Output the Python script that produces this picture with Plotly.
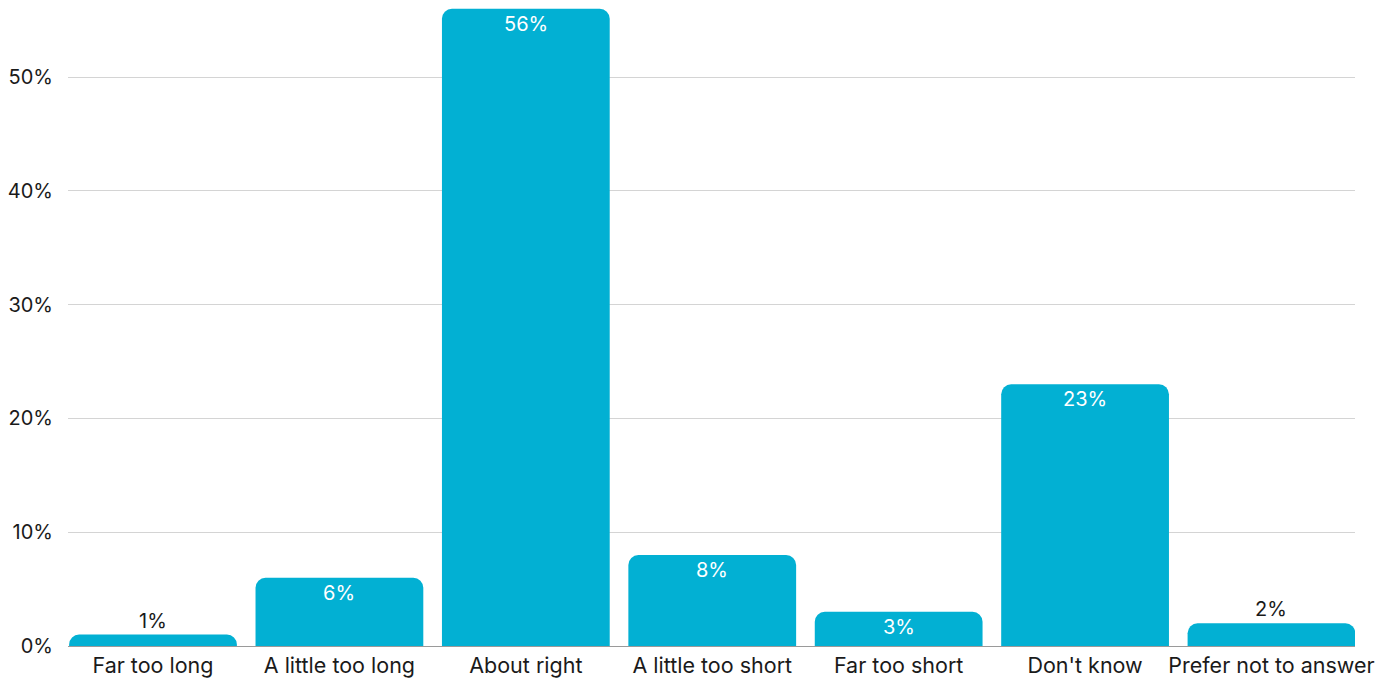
import plotly.graph_objects as go

categories = ["Far too long", "A little too long", "About right", "A little too short",
              "Far too short", "Don't know", "Prefer not to answer"]
shares = [1, 6, 56, 8, 3, 23, 2]  # percent of respondents
label_inside = [False, True, True, True, True, True, False]
tick_values = [0, 10, 20, 30, 40, 50]
tick_labels = ["0%", "10%", "20%", "30%", "40%", "50%"]

FONT = "Inter, Noto Sans, sans-serif"
BAR_COLOR = "#02B0D3"

fig = go.Figure(
    go.Bar(
        x=categories,
        y=shares,
        marker=dict(color=BAR_COLOR, line=dict(width=0)),
        hoverinfo="skip",
    )
)

# Value labels: white just under the top of tall bars, dark just above short ones
for cat, val, inside in zip(categories, shares, label_inside):
    fig.add_annotation(
        x=cat,
        y=val,
        text=f"{val}%",
        showarrow=False,
        xanchor="center",
        yanchor="middle",
        yshift=-15 if inside else 14,
        font=dict(family=FONT, size=20, color="white" if inside else "#1a1a1a"),
    )

fig.update_layout(
    width=1392,
    height=680,
    margin=dict(l=68, r=37, t=0, b=34),
    paper_bgcolor="white",
    plot_bgcolor="white",
    bargap=0.1,
    barcornerradius=10,
    showlegend=False,
    font=dict(family=FONT, size=20, color="#1a1a1a"),
    xaxis=dict(
        range=[-0.456, 6.448],
        showgrid=False,
        showline=False,
        ticks="",
        ticklabelstandoff=4,
        tickfont=dict(size=21.5),
        automargin=False,
    ),
    yaxis=dict(
        range=[0, 56.77],
        tickvals=tick_values,
        ticktext=tick_labels,
        showgrid=True,
        gridcolor="#d4d4d4",
        gridwidth=1,
        zeroline=True,
        zerolinecolor="#9a9a9a",
        zerolinewidth=1,
        ticks="",
        ticklabelstandoff=14,
        tickfont=dict(size=20),
        automargin=False,
    ),
)

fig.write_html("out.html")
